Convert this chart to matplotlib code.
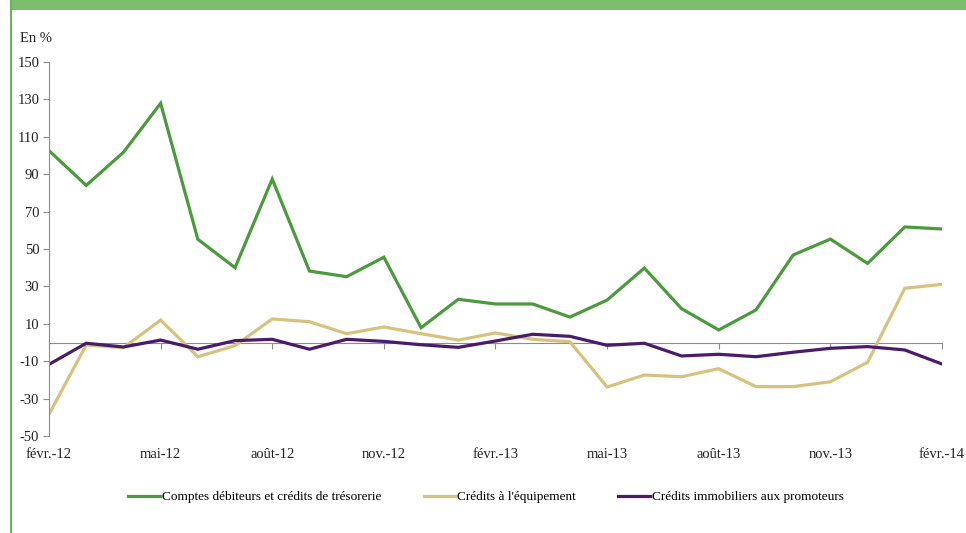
import numpy as np
import matplotlib.pyplot as plt
from matplotlib.patches import Rectangle
from matplotlib.lines import Line2D

plt.rcParams['font.family'] = ['Liberation Serif', 'DejaVu Serif']
plt.rcParams['axes.unicode_minus'] = False

# monthly points, févr.-12 .. févr.-14
months = ['févr.-12', 'mars-12', 'avr.-12', 'mai-12', 'juin-12', 'juil.-12',
          'août-12', 'sept.-12', 'oct.-12', 'nov.-12', 'déc.-12', 'janv.-13',
          'févr.-13', 'mars-13', 'avr.-13', 'mai-13', 'juin-13', 'juil.-13',
          'août-13', 'sept.-13', 'oct.-13', 'nov.-13', 'déc.-13', 'janv.-14',
          'févr.-14']

comptes = [102.6, 84.0, 101.7, 127.9, 55.2, 40.0, 87.4, 38.2, 35.2, 45.6,
           7.9, 23.1, 20.6, 20.6, 13.6, 22.7, 39.8, 18.1, 6.7, 17.4,
           46.8, 55.3, 42.3, 61.8, 60.7]
equipement = [-38.4, -1.3, -2.8, 12.0, -7.6, -1.7, 12.6, 11.1, 4.7, 8.3,
              4.7, 1.3, 5.1, 1.7, 0.4, -23.8, -17.4, -18.3, -14.0, -23.6,
              -23.6, -21.0, -10.6, 29.0, 31.1]
promoteurs = [-11.7, -0.4, -2.4, 1.3, -3.6, 1.0, 1.7, -3.6, 1.7, 0.6,
              -1.2, -2.6, 0.8, 4.4, 3.3, -1.5, -0.4, -7.2, -6.3, -7.6,
              -5.2, -3.1, -2.2, -4.0, -11.5]

labels = ['Comptes débiteurs et crédits de trésorerie',
          "Crédits à l'équipement",
          'Crédits immobiliers aux promoteurs']
colors = ['#4b9a3e', '#d6c27f', '#4a1b69']

fig = plt.figure(figsize=(9.66, 5.33), dpi=100)
ax = fig.add_axes([49 / 966, 1 - 436 / 533, 893 / 966, 374 / 533])

x = np.arange(len(months))
for y, c in zip([comptes, equipement, promoteurs], colors):
    ax.plot(x, y, color=c, lw=2.3, solid_joinstyle='miter')

ax.set_xlim(0, len(months) - 1)
ax.set_ylim(-50, 150)
ax.set_yticks(np.arange(-50, 151, 20))

grey = '#8c8c8c'
for s in ['top', 'right']:
    ax.spines[s].set_visible(False)
ax.spines['left'].set_color(grey)
ax.spines['bottom'].set_color(grey)
ax.spines['bottom'].set_position(('data', 0))
ax.spines['bottom'].set_zorder(0)
ax.tick_params(axis='y', direction='out', length=4, color=grey,
               labelsize=10.5, pad=3, labelcolor='#222222')
ax.set_xticks(x[::3])
ax.tick_params(axis='x', direction='out', length=4, color=grey, labelbottom=False)

# month labels sit under the plot area
sec = ax.secondary_xaxis('bottom')
sec.set_xticks(x[::3], [months[i] for i in x[::3]])
sec.tick_params(length=0, pad=9, labelsize=10.5, labelcolor='#222222')
sec.spines['bottom'].set_visible(False)

fig.text(20 / 966, 1 - 38 / 533, 'En %', fontsize=10.5, va='center', color='#222222')

handles = [Line2D([], [], color=c, lw=2.3) for c in colors]
fig.legend(handles, labels, loc='center', bbox_to_anchor=(486 / 966, 1 - 497 / 533),
           ncol=3, frameon=False, fontsize=9.5, handlelength=2.4,
           handletextpad=0.15, columnspacing=3.2)

# green frame: top band and left rule
fig.add_artist(Rectangle((10 / 966, 1 - 10 / 533), 1, 10 / 533,
                         transform=fig.transFigure, color='#7dbd6e', lw=0))
fig.add_artist(Rectangle((10 / 966, 0), 1.5 / 966, 1,
                         transform=fig.transFigure, color='#6ab35a', lw=0))

fig.savefig('out.png', dpi=100)
